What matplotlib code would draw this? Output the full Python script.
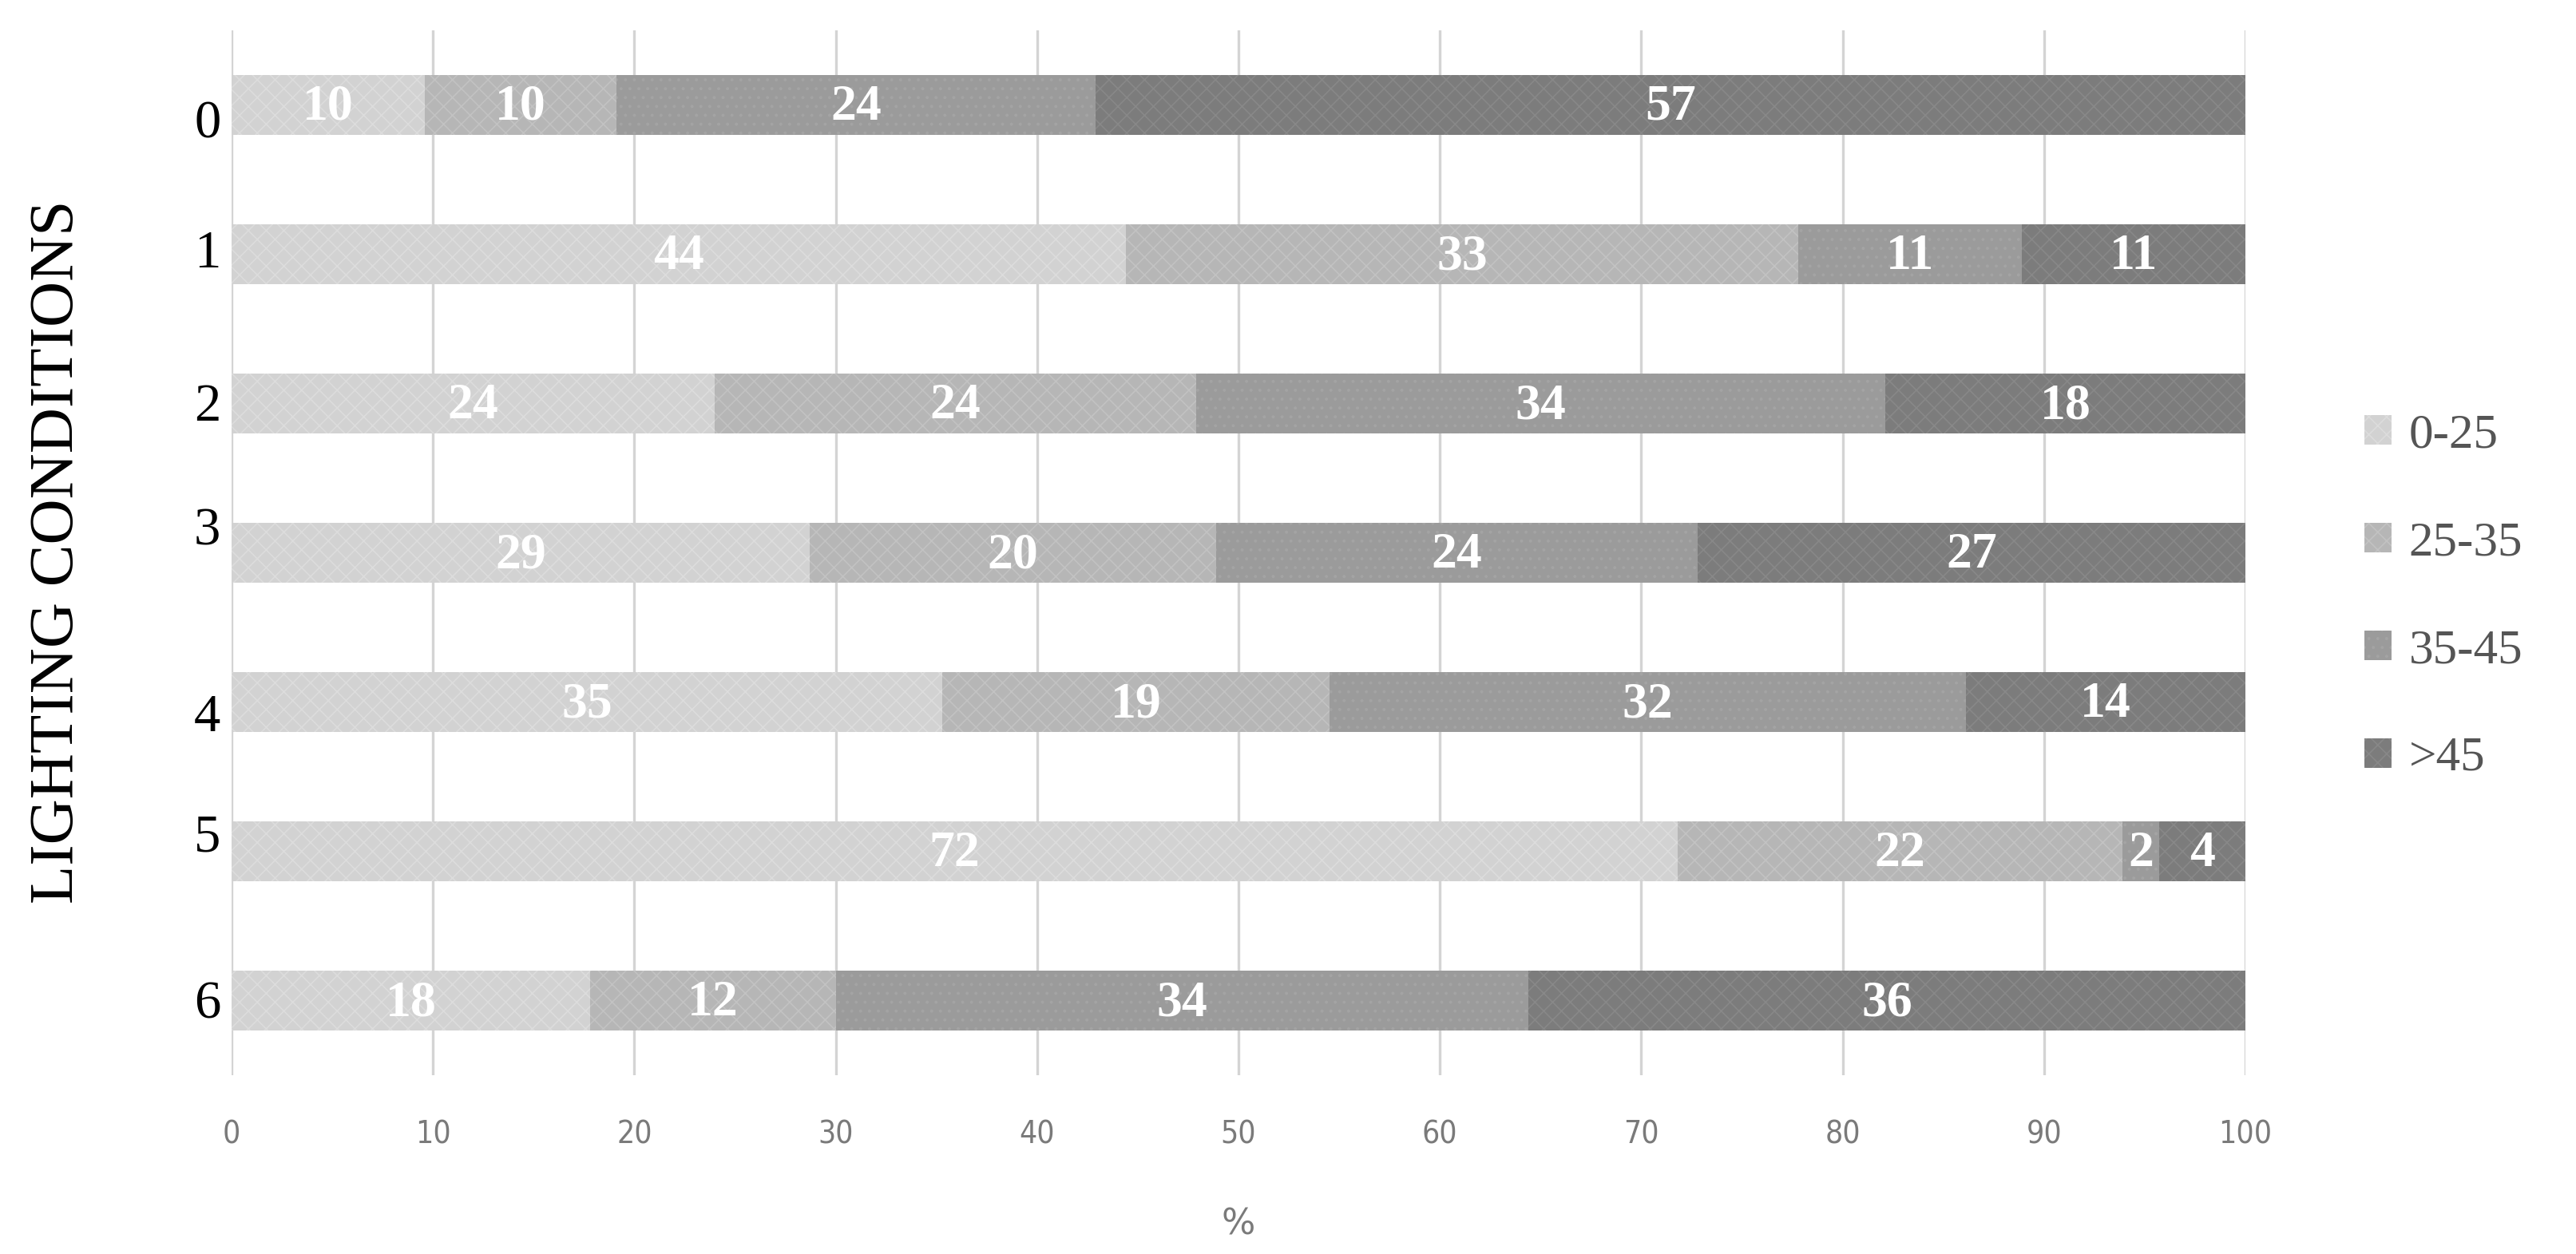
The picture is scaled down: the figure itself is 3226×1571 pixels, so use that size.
import matplotlib
matplotlib.use("Agg")
import matplotlib.pyplot as plt
import numpy as np

categories = ["0", "1", "2", "3", "4", "5", "6"]
series_names = ["0-25", "25-35", "35-45", ">45"]
v_0_25 = [9.6, 44.4, 24.0, 28.7, 35.3, 71.8, 17.8]
v_25_35 = [9.5, 33.4, 23.9, 20.2, 19.2, 22.1, 12.2]
v_35_45 = [23.8, 11.1, 34.2, 23.9, 31.6, 1.8, 34.4]
v_gt45 = [57.1, 11.1, 17.9, 27.2, 13.9, 4.3, 35.6]
lab_0_25 = [10, 44, 24, 29, 35, 72, 18]
lab_25_35 = [10, 33, 24, 20, 19, 22, 12]
lab_35_45 = [24, 11, 34, 24, 32, 2, 34]
lab_gt45 = [57, 11, 18, 27, 14, 4, 36]
x_ticks = [0, 10, 20, 30, 40, 50, 60, 70, 80, 90, 100]

values = [v_0_25, v_25_35, v_35_45, v_gt45]
labels = [lab_0_25, lab_25_35, lab_35_45, lab_gt45]
colors = ["#d2d2d2", "#b6b6b6", "#9b9b9b", "#7c7c7c"]
hatch_edges = ["#dcdcdc", "#c2c2c2", "#a4a4a4", "#888888"]
hatches = ["xxx", "xxx", "...", "xxx"]
# small vertical offsets of category label text (layout only)
cat_label_offsets = [0.13, 0.0, 0.03, -0.14, 0.11, -0.09, 0.03]

serif = ["Liberation Serif", "DejaVu Serif"]
narrow = ["DejaVu Sans"]

plt.rcParams["hatch.linewidth"] = 0.6

fig = plt.figure(figsize=(16.13, 7.855), dpi=200)
ax = fig.add_axes([0.0899, 0.1426, 0.8717 - 0.0899, 0.976 - 0.1426])

y = np.arange(len(categories))
left = np.zeros(len(categories))
handles = []
for i, (vals, labs) in enumerate(zip(values, labels)):
    vals = np.array(vals)
    bars = ax.barh(y, vals, left=left, height=0.4, color=colors[i],
                   edgecolor=hatch_edges[i], linewidth=0, hatch=hatches[i],
                   zorder=2, label=series_names[i])
    handles.append(bars)
    for yi, (l, v, t) in enumerate(zip(left, vals, labs)):
        ax.text(l + v / 2, yi + 0.02, str(t), ha="center", va="center",
                color="white", fontsize=23, fontweight="bold",
                family=serif, zorder=3)
    left = left + vals

ax.set_xlim(0, 100)
ax.set_ylim(6.5, -0.5)
ax.set_xticks(x_ticks)
ax.set_xticklabels([str(t) for t in x_ticks], family=narrow, fontsize=14,
                   color="#7a7a7a", fontstretch="condensed")
ax.tick_params(axis="x", length=0, pad=20)
ax.set_yticks([])
ax.grid(axis="x", color="#d4d4d4", linewidth=1.2, zorder=0)
ax.set_axisbelow(True)
for s in ax.spines.values():
    s.set_visible(False)

for yi, (c, off) in enumerate(zip(categories, cat_label_offsets)):
    ax.text(-1.2, yi + off, c, ha="center", va="center", fontsize=24,
            family=serif, color="black")

ax.set_xlabel("%", family=narrow, fontsize=16, color="#7a7a7a", labelpad=26)
fig.text(0.0225, 0.56, "LIGHTING CONDITIONS", rotation=90, ha="center",
         va="center", fontsize=28.5, family=serif, color="black")

leg = fig.legend(handles=handles, labels=series_names, loc="center left",
                 bbox_to_anchor=(0.918, 0.524), frameon=False,
                 prop={"family": serif, "size": 22}, labelspacing=1.3,
                 handlelength=0.55, handleheight=0.55, handletextpad=0.35,
                 borderaxespad=0, borderpad=0)
for t in leg.get_texts():
    t.set_color("#555555")

fig.savefig("out.png", dpi=200)
